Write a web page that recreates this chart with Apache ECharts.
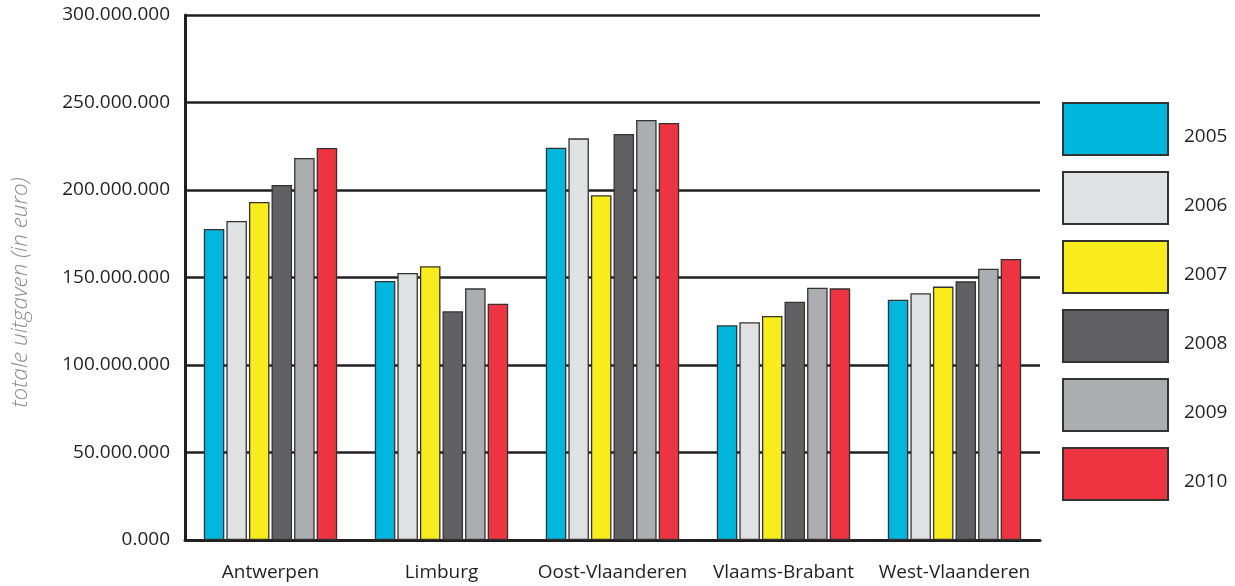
<!DOCTYPE html>
<html>
<head>
<meta charset="utf-8">
<script src="https://cdn.jsdelivr.net/npm/echarts@6/dist/echarts.min.js"></script>
<style>
  html, body { margin: 0; padding: 0; background: #fff; }
  #main { width: 1235px; height: 586px; }
</style>
</head>
<body>
<div id="main"></div>
<script>
// provincies en jaren
var provincies = ['Antwerpen', 'Limburg', 'Oost-Vlaanderen', 'Vlaams-Brabant', 'West-Vlaanderen'];
var jaren = ['2005', '2006', '2007', '2008', '2009', '2010'];

// totale uitgaven per jaar (in euro), volgorde = provincies
var uitg2005 = [177700000, 148000000, 224200000, 122700000, 137300000];
var uitg2006 = [182300000, 152600000, 229500000, 124400000, 141000000];
var uitg2007 = [193100000, 156400000, 197000000, 128000000, 144800000];
var uitg2008 = [202900000, 130700000, 232000000, 136200000, 147800000];
var uitg2009 = [218300000, 143800000, 240000000, 144200000, 155000000];
var uitg2010 = [224000000, 135000000, 238300000, 143800000, 160600000];

var reeksen = [uitg2005, uitg2006, uitg2007, uitg2008, uitg2009, uitg2010];
var kleuren = ['#00b6dd', '#e0e1e3', '#f8ec1d', '#616163', '#acadb0', '#ee3440'];

var fnt = '"Open Sans", "Noto Sans", sans-serif';

function puntjes(v) {
    if (v === 0) return '0.000';
    return String(v).replace(/\B(?=(\d{3})+(?!\d))/g, '.');
}

var series = reeksen.map(function (d, i) {
    return {
        name: jaren[i],
        type: 'bar',
        data: d,
        barGap: '10%',
        barCategoryGap: '22%',
        itemStyle: {
            color: kleuren[i],
            borderColor: '#333',
            borderWidth: 1.3
        }
    };
});

var myChart = echarts.init(document.getElementById('main'));
var option = {
    animation: false,
    backgroundColor: '#fff',
    grid: {
        left: 185,
        right: 195,
        top: 15,
        bottom: 46,
        outerBoundsMode: 'none'
    },
    legend: {
        orient: 'vertical',
        left: 1057,
        top: 97,
        itemWidth: 105,
        itemHeight: 52,
        itemGap: 15,
        icon: 'rect',
        data: jaren,
        selectedMode: false,
        formatter: '\n{name}',
        textStyle: {
            fontFamily: fnt,
            fontSize: 19,
            lineHeight: 15,
            color: '#231f20',
            padding: [0, 0, 0, 11]
        }
    },
    xAxis: {
        type: 'category',
        data: provincies,
        axisLine: { lineStyle: { color: '#231f20', width: 3 } },
        axisTick: { show: false },
        axisLabel: {
            interval: 0,
            fontFamily: fnt,
            fontSize: 19,
            color: '#231f20',
            margin: 23
        }
    },
    yAxis: {
        type: 'value',
        min: 0,
        max: 300000000,
        interval: 50000000,
        name: 'totale uitgaven (in euro)',
        nameLocation: 'middle',
        nameGap: 153,
        nameTextStyle: {
            fontFamily: fnt,
            fontSize: 22.5,
            fontStyle: 'italic',
            fontWeight: 300,
            color: '#8a8c8e',
            padding: [0, 30, 0, 0]
        },
        axisLine: { show: true, lineStyle: { color: '#231f20', width: 3 } },
        axisTick: { show: false },
        splitLine: { lineStyle: { color: '#231f20', width: 2.5 } },
        axisLabel: {
            fontFamily: fnt,
            fontSize: 19,
            color: '#231f20',
            margin: 15,
            padding: [10, 0, 0, 0],
            formatter: puntjes
        }
    },
    series: series
};
myChart.setOption(option);
</script>
</body>
</html>
